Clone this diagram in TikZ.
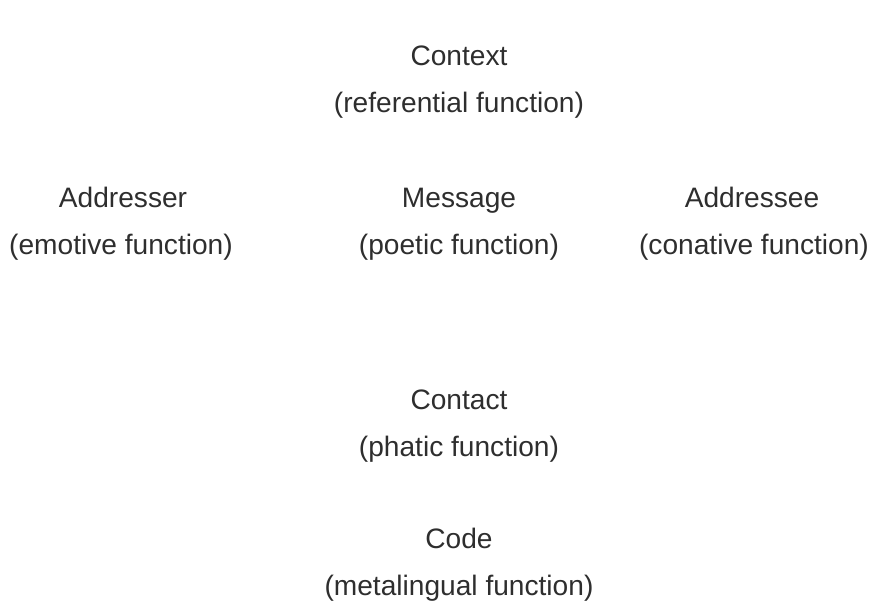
\documentclass[tikz,border=0pt]{standalone}
\usepackage{fontspec}
\setmainfont{Liberation Sans}
\usetikzlibrary{positioning}

\begin{document}
\begin{tikzpicture}[x=0.025cm,y=-0.025cm]
\tikzset{
  factor/.style={anchor=base,inner sep=0pt,text=black!82,font=\fontsize{20}{24}\selectfont},
  func/.style={factor}
}
\useasboundingbox (0,0) rectangle (877,613);
\node[factor] (n_context) at (459,65) {Context};
\node[func] (f_context) at (459,112) {(referential function)};
\node[factor] (n_addresser) at (123,207) {Addresser};
\node[func] (f_addresser) at (121,254) {(emotive function)};
\node[factor] (n_message) at (459,207) {Message};
\node[func] (f_message) at (459,254) {(poetic function)};
\node[factor] (n_addressee) at (752,207) {Addressee};
\node[func] (f_addressee) at (754,254) {(conative function)};
\node[factor] (n_contact) at (459,409) {Contact};
\node[func] (f_contact) at (459,456) {(phatic function)};
\node[factor] (n_code) at (459,548) {Code};
\node[func] (f_code) at (459,595) {(metalingual function)};
\end{tikzpicture}
\end{document}
